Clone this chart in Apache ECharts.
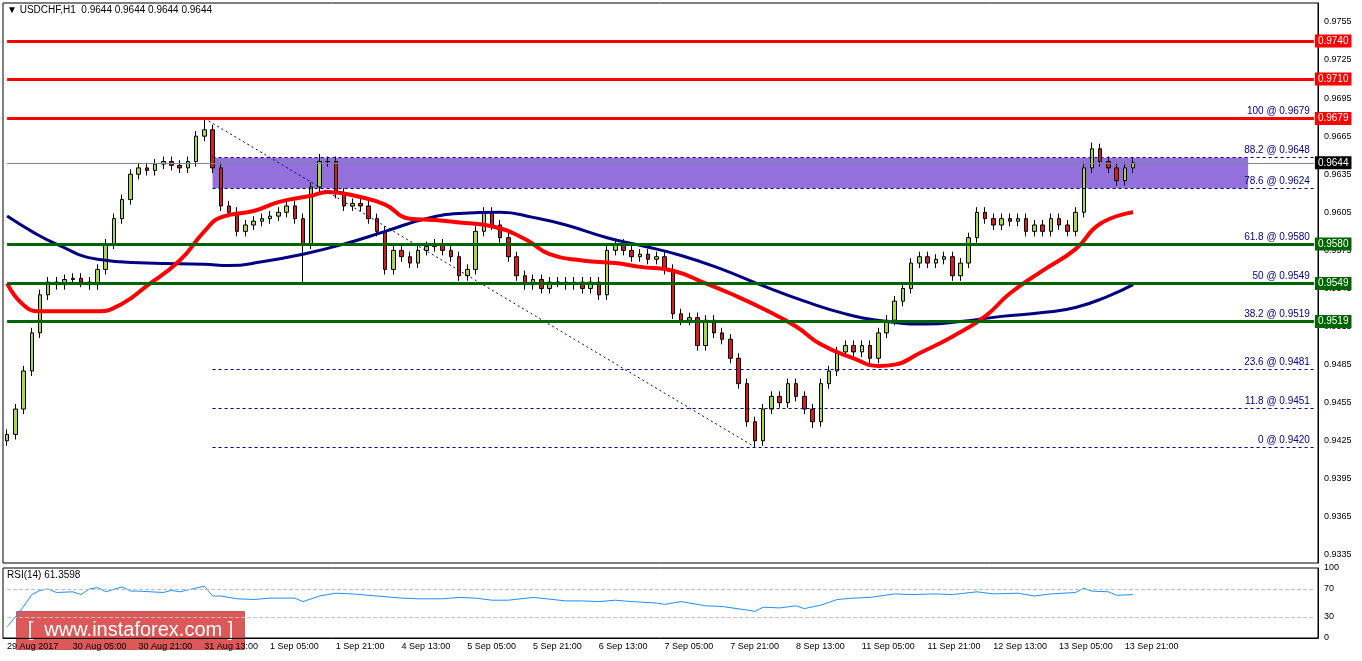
<!DOCTYPE html>
<html>
<head>
<meta charset="utf-8">
<script src="https://cdn.jsdelivr.net/npm/echarts@6/dist/echarts.min.js"></script>
<style>html,body{margin:0;padding:0;background:#fff}#main{width:1362px;height:661px}</style>
</head>
<body>
<div id="main"></div>
<script>
// 2-hour closes
var closes = [0.9430,0.9450,0.9480,0.9510,0.9540,0.9550,0.9548,0.9552,0.9553,0.9550,
    0.9548,0.9560,0.9580,0.9600,0.9615,0.9635,0.9640,0.9638,0.9643,0.9645,
    0.9642,0.9640,0.9645,0.9665,0.9670,0.9640,0.9610,0.9605,0.9590,0.9595,
    0.9598,0.9600,0.9602,0.9605,0.9610,0.9600,0.9580,0.9625,0.9645,0.9645,
    0.9620,0.9610,0.9612,0.9610,0.9600,0.9590,0.9560,0.9575,0.9570,0.9565,
    0.9575,0.9578,0.9580,0.9575,0.9570,0.9555,0.9560,0.9590,0.9605,0.9595,
    0.9585,0.9570,0.9555,0.9548,0.9552,0.9545,0.9550,0.9550,0.9548,0.9550,
    0.9545,0.9550,0.9540,0.9575,0.9580,0.9575,0.9570,0.9572,0.9568,0.9570,
    0.9560,0.9525,0.9520,0.9522,0.9500,0.9520,0.9510,0.9505,0.9490,0.9470,
    0.9440,0.9425,0.9450,0.9460,0.9455,0.9470,0.9460,0.9450,0.9440,0.9470,
    0.9480,0.9495,0.9500,0.9495,0.9500,0.9490,0.9510,0.9520,0.9535,0.9545,
    0.9565,0.9570,0.9565,0.9568,0.9570,0.9555,0.9565,0.9585,0.9605,0.9600,
    0.9595,0.9600,0.9598,0.9600,0.9590,0.9595,0.9590,0.9600,0.9595,0.9590,
    0.9605,0.9640,0.9655,0.9645,0.9640,0.9630,0.9640,0.9644];
var firstOpen = 0.9425;
var highOverride = {24: 0.9679, 38: 0.9651, 132: 0.9660};
var lowOverride = {36: 0.9550, 91: 0.9420, 98: 0.9435};

var fastMaSlots = [0,2,4,8,11,14,17,21,24,26,30,33,37,39,43,46,49,52,55,59,63,66,70,74,77,81,85,88,92,96,99,103,106,108,111,115,119,122,126,130,133,137];
var fastMa = [0.9549,0.9532,0.9527,0.9527,0.9527,0.9533,0.9547,0.9567,0.9590,0.9601,0.9606,0.9613,0.9618,0.9621,0.9617,0.9611,0.9600,0.9599,0.9597,0.9594,0.9584,0.9572,0.9567,0.9565,0.9562,0.9559,0.9549,0.9541,0.9529,0.9515,0.9501,0.9490,0.9484,0.9485,0.9494,0.9507,0.9523,0.9541,0.9559,0.9576,0.9596,0.9605];
var slowMaSlots = [0,3,6,11,17,24,27,31,36,41,46,51,55,60,64,68,73,77,82,87,92,97,102,107,112,116,121,126,130,134,137];
var slowMa = [0.9602,0.9590,0.9580,0.9568,0.9565,0.9564,0.9563,0.9566,0.9572,0.9580,0.9590,0.9600,0.9604,0.9605,0.9601,0.9595,0.9585,0.9579,0.9571,0.9560,0.9547,0.9535,0.9525,0.9519,0.9517,0.9519,0.9523,0.9526,0.9530,0.9539,0.9548];

var rsiSlots = [0,1,2,3,4,5,6,8,9,10,11,12,14,15,16,19,20,21,24,25,26,28,30,32,35,36,38,40,42,46,48,50,53,55,57,59,61,64,68,70,72,74,76,79,80,82,85,87,90,91,92,94,96,97,99,101,103,105,108,110,113,115,118,120,123,125,127,130,131,132,134,135,137];
var rsi = [16,30,45,62,68,70,65,66,62,70,72,66,73,67,67,65,68,66,74,60,60,56,55,57,57,52,60,64,63,59,57,56,56,58,57,54,54,58,53,53,52,54,52,50,48,52,46,45,40,38,44,43,46,42,47,55,57,58,63,62,63,62,66,63,64,60,63,65,71,67,66,61,62];

var tickLabels = ['29 Aug 2017','30 Aug 05:00','30 Aug 21:00','31 Aug 13:00','1 Sep 05:00','1 Sep 21:00',
    '4 Sep 13:00','5 Sep 05:00','5 Sep 21:00','6 Sep 13:00','7 Sep 05:00','7 Sep 21:00','8 Sep 13:00',
    '11 Sep 05:00','11 Sep 21:00','12 Sep 13:00','13 Sep 05:00','13 Sep 21:00'];
var priceTicks = [0.9335,0.9365,0.9395,0.9425,0.9455,0.9485,0.9515,0.9545,0.9575,0.9605,0.9635,0.9665,0.9695,0.9725,0.9755];
var redLevels = [0.9740, 0.9710, 0.9679];
var greenLevels = [0.9580, 0.9549, 0.9519];
var fibLevels = [['100', 0.9679], ['88.2', 0.9648], ['78.6', 0.9624], ['61.8', 0.9580], ['50', 0.9549], ['38.2', 0.9519], ['23.6', 0.9481], ['11.8', 0.9451], ['0', 0.9420]];
var lastPrice = 0.9644;

var slotCount = 160;
var cats = [];
for (var i = 0; i < slotCount; i++) cats.push(i);

var ohlc = [];
for (var i = 0; i < closes.length; i++) {
    var o = i == 0 ? firstOpen : closes[i - 1];
    var c = closes[i];
    var h = highOverride[i] || Math.max(o, c) + 0.0004;
    var l = lowOverride[i] || Math.min(o, c) - 0.0004;
    ohlc.push([o, c, l, h]);
}
function pairs(s, v) { return s.map(function (x, k) { return [x, v[k]]; }); }

function level(v, color, width, bg) {
    return [{coord: [0, v], lineStyle: {color: color, width: width, type: 'solid'},
        label: {show: true, position: 'end', formatter: v.toFixed(4), backgroundColor: bg, color: '#fff',
            padding: [2, 3, 1, 3], fontSize: 10, distance: 1}},
        {coord: [slotCount - 1, v]}];
}

var lines = [];
lines.push(level(lastPrice, '#778899', 1, '#000'));
fibLevels.forEach(function (f) {
    lines.push([{coord: [25, f[1]], lineStyle: {color: '#000080', width: 1, type: [3, 3]},
        label: {show: true, position: 'insideEndTop', formatter: f[0] + ' @ ' + f[1].toFixed(4), color: '#000080', fontSize: 10, distance: [4, 2]}},
        {coord: [slotCount - 1, f[1]]}]);
});
lines.push([{coord: [24, 0.9679], lineStyle: {color: '#000080', width: 1, type: [2, 3]}, label: {show: false}}, {coord: [91, 0.9420]}]);
redLevels.forEach(function (v) { lines.push(level(v, '#ff0000', 3, '#ff0000')); });
greenLevels.forEach(function (v) { lines.push(level(v, '#006400', 3, '#006400')); });

var chart = echarts.init(document.getElementById('main'));
chart.setOption({
    animation: false,
    backgroundColor: '#fff',
    textStyle: {fontFamily: 'Liberation Sans, Arial, sans-serif'},
    grid: [
        {left: 3, right: 44, top: 3, height: 560, show: true, borderColor: '#000', borderWidth: 1, backgroundColor: '#fff'},
        {left: 3, right: 44, top: 568, height: 70, show: true, borderColor: '#000', borderWidth: 1, backgroundColor: '#fff'}
    ],
    graphic: [
        {type: 'text', left: 7, top: 5, style: {text: '\u25BC USDCHF,H1  0.9644 0.9644 0.9644 0.9644', fontSize: 10, fill: '#000'}},
        {type: 'text', left: 7, top: 570, style: {text: 'RSI(14) 61.3598', fontSize: 10, fill: '#000'}},
        {type: 'group', left: 16, top: 611, z: 100, children: [
            {type: 'rect', shape: {x: 0, y: 0, width: 228, height: 38}, style: {fill: 'rgba(215,60,60,0.85)', stroke: 'rgba(160,40,40,0.6)'}},
            {type: 'text', x: 114, y: 19, style: {text: '[  www.instaforex.com ]', fontSize: 20, fill: '#fff', align: 'center', verticalAlign: 'middle'}}
        ]}
    ],
    xAxis: [
        {type: 'category', gridIndex: 0, data: cats, boundaryGap: true, axisLine: {show: false}, axisTick: {show: false}, axisLabel: {show: false}},
        {type: 'category', gridIndex: 1, data: cats, boundaryGap: true, position: 'bottom',
            axisLine: {lineStyle: {color: '#000'}},
            axisTick: {interval: function (i) { return i % 8 == 0 && i / 8 < tickLabels.length; }, length: 4, lineStyle: {color: '#000'}},
            axisLabel: {interval: function (i) { return i % 8 == 0 && i / 8 < tickLabels.length; },
                formatter: function (v) { return tickLabels[v / 8] || ''; },
                align: 'left', fontSize: 9, color: '#000', margin: 4}}
    ],
    yAxis: [
        {type: 'value', gridIndex: 0, position: 'right', min: 0.93287, max: 0.97699, splitLine: {show: false},
            axisLine: {show: true, lineStyle: {color: '#000'}},
            axisTick: {customValues: priceTicks, length: 3, lineStyle: {color: '#000'}},
            axisLabel: {customValues: priceTicks, formatter: function (v) { return v.toFixed(4); }, fontSize: 9, color: '#000', margin: 6}},
        {type: 'value', gridIndex: 1, position: 'right', min: 0, max: 100, splitLine: {show: false},
            axisLine: {show: true, lineStyle: {color: '#000'}},
            axisTick: {customValues: [0, 30, 70, 100], length: 3, lineStyle: {color: '#000'}},
            axisLabel: {customValues: [0, 30, 70, 100], fontSize: 9, color: '#000', margin: 6}}
    ],
    series: [
        {type: 'candlestick', xAxisIndex: 0, yAxisIndex: 0, data: ohlc, barWidth: 4, z: 3,
            itemStyle: {color: '#a8d848', color0: '#d41e1e', borderColor: '#000', borderColor0: '#000', borderWidth: 1},
            markArea: {silent: true, itemStyle: {color: '#9370db'}, data: [[{coord: [25, 0.9624]}, {coord: [151, 0.9648]}]]},
            markLine: {silent: true, symbol: 'none', data: lines}},
        {type: 'line', xAxisIndex: 0, yAxisIndex: 0, data: pairs(slowMaSlots, slowMa), smooth: true, showSymbol: false, z: 4,
            lineStyle: {color: '#000080', width: 3}},
        {type: 'line', xAxisIndex: 0, yAxisIndex: 0, data: pairs(fastMaSlots, fastMa), smooth: true, showSymbol: false, z: 4,
            lineStyle: {color: '#ff0000', width: 4}},
        {type: 'line', xAxisIndex: 1, yAxisIndex: 1, data: pairs(rsiSlots, rsi), showSymbol: false,
            lineStyle: {color: '#1e90ff', width: 1},
            markLine: {silent: true, symbol: 'none', label: {show: false},
                lineStyle: {color: '#c0c0c0', type: 'dashed', width: 1}, data: [[{coord: [0, 30]}, {coord: [slotCount - 1, 30]}], [{coord: [0, 70]}, {coord: [slotCount - 1, 70]}]]}}
    ]
});
</script>
</body>
</html>
